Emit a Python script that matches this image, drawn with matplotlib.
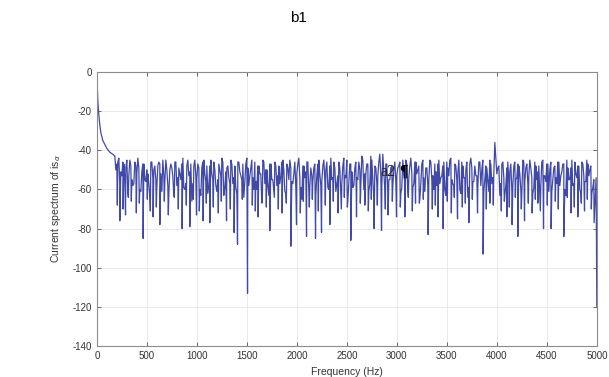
import matplotlib
matplotlib.use('Agg')
import matplotlib.pyplot as plt
import numpy as np

plt.rcParams['font.family'] = ['Liberation Sans', 'DejaVu Sans']
plt.rcParams['axes.unicode_minus'] = False

# 低频段衰减部分 (Hz, dB)
head_freq = [0, 5, 10, 20, 30, 40, 60, 80, 100, 130, 160]
head_val = [0, -8, -15, -22, -27, -31, -35, -37, -39, -41, -42]

# 主体噪声段 A, 180 Hz 起, 步长 20 Hz
body_a_start = 180
body_step = 20
body_a_val = [
    -43, -47, -44, -51, -46, -55, -45, -53, -48, -58, -46, -52, -49, -61, -47, -55, -50, -57, -46, -54,
    -48, -59, -46, -52, -45, -56, -50, -62, -47, -53, -46, -58, -49, -55, -44, -60, -48, -53, -47, -57,
    -45, -54, -49, -63, -46, -52, -48, -58, -45, -55, -50, -61, -47, -53, -46, -59, -49, -54, -45, -57,
    -48, -62, -46, -53, -47, -56, -44, -58, -49, -54, -46, -60, -48, -52, -45, -57, -50, -63, -47, -55,
    -46, -58, -48, -53, -45, -61, -47, -55, -49, -57, -46, -52, -44, -59, -48, -54, -46, -62, -49, -56,
    -47, -53, -45, -58, -48, -55, -46, -60, -44, -54, -49, -57, -46, -63, -48, -53, -45, -56, -47, -59,
    -49, -54, -46, -58, -45, -52, -47, -61, -43, -55, -48, -57, -46, -53, -42, -60, -47, -55, -49, -58,
    -46, -53, -48, -62, -45, -56, -47, -54, -44, -59, -46, -52, -48, -57, -45, -61, -49, -55, -46, -53,
    -47, -58, -45, -54, -48, -60, -46, -53, -44, -57, -47, -55, -45, -62, -48, -54, -46, -59, -44, -56,
    -48, -53, -46, -58, -45, -55, -49, -61, -47, -54, -36, -52, -48, -57, -46, -63, -49, -55, -47, -58,
    -46, -54, -48, -60, -45, -56, -47, -53, -49, -62, -46, -55, -48, -58, -45, -53, -47, -61, -46, -55,
    -48, -57, -46, -53, -47, -60, -45, -55, -49, -58, -46, -54, -48, -62, -47, -56, -45, -53, -48, -59,
]

# 主体噪声段 B, 190 Hz 起, 步长 20 Hz (与 A 交错)
body_b_start = 190
body_b_val = [
    -50, -46, -58, -53, -47, -49, -62, -45, -55, -57, -48, -44, -60, -51, -47, -56, -52, -64, -46, -50,
    -55, -48, -47, -61, -53, -45, -58, -50, -49, -63, -46, -54, -52, -47, -59, -57, -45, -51, -66, -48,
    -53, -47, -60, -49, -45, -56, -62, -48, -52, -46, -58, -55, -50, -44, -63, -51, -48, -57, -47, -54,
    -59, -46, -51, -55, -64, -47, -49, -53, -45, -60, -56, -48, -52, -67, -46, -50, -58, -47, -55, -61,
    -48, -53, -57, -46, -50, -62, -49, -45, -56, -52, -59, -47, -54, -65, -48, -51, -46, -58, -53, -49,
    -63, -47, -52, -56, -45, -50, -59, -48, -55, -46, -61, -53, -49, -57, -44, -54, -66, -47, -51, -58,
    -46, -55, -50, -43, -60, -52, -47, -57, -45, -64, -49, -53, -42, -58, -51, -47, -62, -55, -48, -50,
    -56, -49, -46, -59, -53, -45, -61, -48, -52, -57, -46, -50, -65, -47, -54, -49, -58, -45, -55, -60,
    -51, -47, -57, -53, -46, -63, -49, -45, -55, -58, -48, -52, -60, -46, -54, -50, -64, -47, -49, -56,
    -53, -59, -46, -50, -61, -48, -55, -45, -57, -52, -44, -49, -63, -47, -54, -58, -46, -51, -60, -48,
    -55, -47, -52, -62, -46, -49, -57, -45, -54, -59, -48, -51, -64, -46, -53, -56, -47, -50, -61, -49,
    -54, -46, -58, -51, -47, -63, -49, -55, -45, -57, -52, -48, -60, -46, -53, -56, -47, -50, -62, -55,
]

# 中等深度的向下尖峰 (Hz, dB)
minor_freq = [205, 263, 315, 345, 395, 425, 505, 535, 595, 675,
              715, 775, 815, 895, 965, 1025, 1095, 1165, 1215, 1245,
              1335, 1455, 1555, 1585, 1655, 1695, 1775, 1815, 1895, 2035,
              2065, 2125, 2155, 2215, 2285, 2365, 2445, 2475, 2505, 2635,
              2715, 2745, 2805, 2885, 2955, 3035, 3115, 3155, 3225, 3265,
              3355, 3385, 3505, 3545, 3575, 3655, 3685, 3755, 3895, 3965,
              4045, 4075, 4125, 4185, 4245, 4315, 4385, 4435, 4505, 4585,
              4615, 4705, 4775, 4845, 4905, 4945]
minor_val = [-68, -70, -64, -66, -72, -67, -65, -71, -69, -66,
             -73, -64, -70, -68, -65, -71, -67, -69, -72, -66,
             -70, -65, -68, -71, -66, -69, -64, -70, -67, -72,
             -66, -69, -65, -71, -68, -66, -70, -64, -69, -67,
             -71, -65, -68, -70, -66, -69, -64, -71, -67, -65,
             -70, -68, -66, -72, -64, -69, -67, -65, -70, -68,
             -71, -66, -69, -64, -70, -67, -65, -71, -68, -66,
             -70, -64, -69, -67, -65, -70]

# 深的向下尖峰 (Hz, dB)
dip_freq = [230, 287, 463, 563, 630, 853, 930, 997, 1063, 1130, 1297, 1373, 1407, 1507,
            1613, 1730, 1853, 1940, 1997, 2097, 2187, 2247, 2330, 2413, 2540, 2597, 2680,
            2773, 2847, 2913, 2997, 3080, 3187, 3313, 3413, 3463, 3607, 3720, 3807, 3863,
            3930, 4100, 4153, 4210, 4277, 4353, 4410, 4467, 4543, 4670, 4743, 4810, 4877,
            4973, 4993, 5000]
dip_val = [-76, -73, -85, -74, -78, -80, -79, -73, -76, -77, -76, -82, -88, -113,
           -74, -81, -72, -89, -78, -84, -85, -82, -78, -72, -86, -74, -68,
           -80, -81, -73, -74, -74, -67, -83, -74, -80, -75, -77, -72, -93,
           -67, -74, -78, -84, -76, -72, -67, -80, -80, -84, -72, -74, -71,
           -77, -54, -120]

body_a_freq = [body_a_start + body_step * i for i in range(len(body_a_val))]
body_b_freq = [body_b_start + body_step * i for i in range(len(body_b_val))]

freq = np.array(head_freq + body_a_freq + body_b_freq + minor_freq + dip_freq, dtype=float)
val = np.array(head_val + body_a_val + body_b_val + minor_val + dip_val, dtype=float)
order = np.argsort(freq, kind='stable')
freq = freq[order]
val = val[order]

fig = plt.figure(figsize=(6.09, 3.77), dpi=100)
ax = fig.add_axes([0.159, 0.082, 0.821, 0.727])

ax.plot(freq, val, color='#4149a8', linewidth=0.9)

ax.set_xlim(0, 5000)
ax.set_ylim(-140, 0)
ax.set_xticks(np.arange(0, 5001, 500))
ax.set_yticks(np.arange(-140, 1, 20))
ax.grid(True, color='#e6e6e6', linewidth=0.6)
ax.tick_params(direction='in', top=True, right=True, labelsize=7,
               colors='#333333', length=3, width=0.5)
for s in ax.spines.values():
    s.set_color('#8c8c8c')
    s.set_linewidth(0.8)

ax.set_xlabel('Frequency (Hz)', fontsize=7.5, color='#333333')
ax.xaxis.set_label_coords(0.5, -0.077)
ax.set_ylabel(r'Current spectrum of is$_\alpha$', fontsize=7.5, color='#333333')
ax.yaxis.set_label_coords(-0.068, 0.5)

ax.text(2840, -51, 'a2', family='Liberation Serif', fontsize=11.5,
        ha='left', va='center', color='#222222')
ax.text(3020, -51, '¶', family='Liberation Serif', fontsize=11.5, fontweight='bold',
        ha='left', va='center', color='#000000')

fig.text(0.49, 0.952, 'b1', fontsize=11, ha='center', va='center')

fig.savefig('out.png', dpi=100)
